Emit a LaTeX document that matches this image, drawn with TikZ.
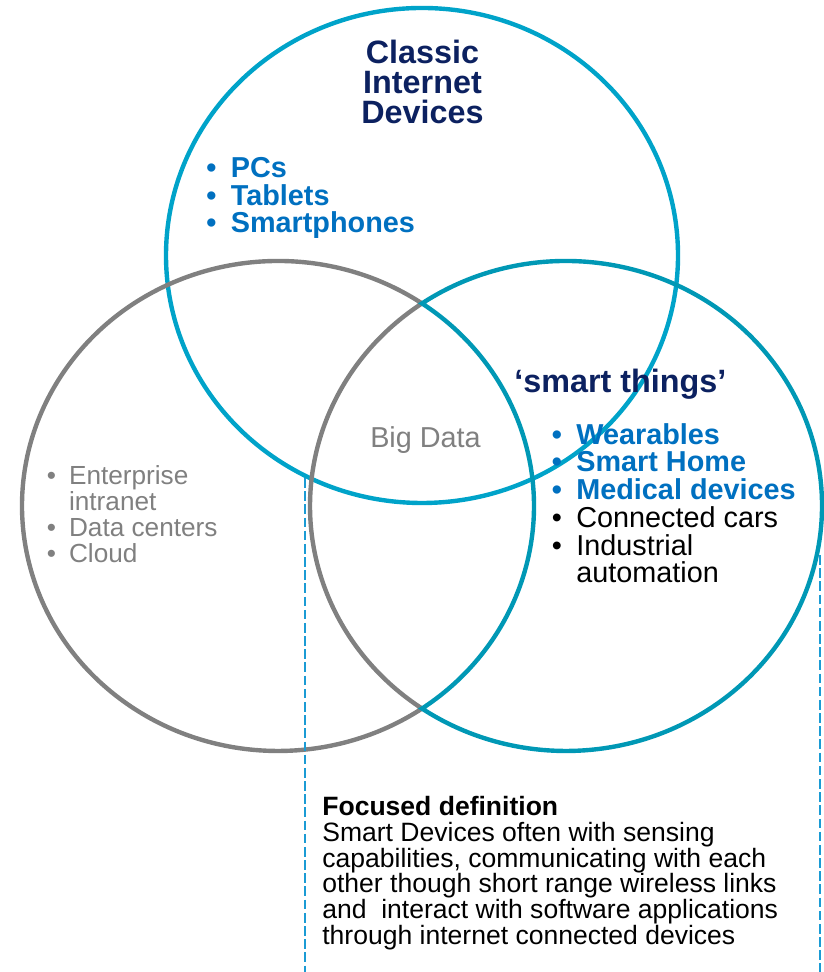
\documentclass[tikz,border=0pt]{standalone}
\usepackage{fontspec}
\setmainfont{Liberation Sans}
\usepackage{xcolor}

\definecolor{navy}{HTML}{0C2160}
\definecolor{itemblue}{HTML}{0070C0}
\definecolor{ringgray}{HTML}{808080}
\definecolor{topcyan}{HTML}{00A3C9}
\definecolor{rightteal}{HTML}{0098B5}
\definecolor{dashblue}{HTML}{1B9BD4}

\newcommand{\itm}[1]{\makebox[0.85em][l]{\textbullet}#1}
\newcommand{\hng}[1]{\hspace*{0.85em}#1}

\tikzset{
  ring/.style={line width=2.5pt},
  guide/.style={dashblue,line width=1.1pt,dash pattern=on 5.5pt off 2pt},
  heading/.style={inner sep=0pt,text=navy,font=\fontsize{18.4}{17.3}\selectfont\bfseries},
  bullets/.style={inner sep=0pt,anchor=base west,align=left,font=\fontsize{16.4}{15.8}\selectfont},
  smallgray/.style={inner sep=0pt,anchor=base west,align=left,text=ringgray,font=\fontsize{14.9}{14.8}\selectfont}
}

\begin{document}
\begin{tikzpicture}[x=0.02cm,y=0.02cm]
        \useasboundingbox (0,0) rectangle (823,972);

        % Classic internet circle on top
        \draw[ring,topcyan] (422,716.5) ellipse [x radius=256,y radius=247.5];

        % left crescent, grey (outer arc plus the lens edge)
        \draw[ring,ringgray] (278,466) ++(55.77:256 and 245)
            arc[start angle=55.77,end angle=304.23,x radius=256,y radius=245]
            arc[start angle=235.77,end angle=124.23,x radius=256,y radius=245] -- cycle;

        % right crescent, teal
        \draw[ring,rightteal] (566,466) ++(124.23:256 and 245)
            arc[start angle=124.23,end angle=-124.23,x radius=256,y radius=245]
            arc[start angle=-55.77,end angle=55.77,x radius=256,y radius=245] -- cycle;

        % bracket for the focused definition
        \coordinate (gdA) at (305,494);
        \coordinate (gdB) at (305,0);
        \coordinate (gdC) at (820,417);
        \coordinate (gdD) at (820,0);
        \draw[guide] (gdA) -- (gdB);
        \draw[guide] (gdC) -- (gdD);

        % labels (base = last line)
        \node[heading,anchor=base,align=center] (classic) at (422.5,848) {Classic\\Internet\\Devices};
        \node[bullets,text=itemblue,font=\fontsize{16.4}{15.8}\selectfont\bfseries] (pcs) at (206,739)
            {\itm{PCs}\\ \itm{Tablets}\\ \itm{Smartphones}};
        \node[heading,anchor=base west] (smart) at (514,579) {‘smart things’};
        \node[bullets] (things) at (551.5,389)
            {\textcolor{itemblue}{\bfseries\itm{Wearables}}\\
             \textcolor{itemblue}{\bfseries\itm{Smart Home}}\\
             \textcolor{itemblue}{\bfseries\itm{Medical devices}}\\
             \itm{Connected cars}\\ \itm{Industrial}\\ \hng{automation}};
        \node[smallgray] (enterprise) at (46.5,409)
            {\itm{Enterprise}\\ \hng{intranet}\\ \itm{Data centers}\\ \itm{Cloud}};
        \node[inner sep=0pt,anchor=base,text=ringgray,font=\fontsize{16.4}{16}\selectfont] (bigdata) at (425.5,524) {Big Data};
        \node[inner sep=0pt,anchor=base west,align=left,font=\fontsize{15.1}{14.6}\selectfont] (focus) at (322,28)
            {\textbf{Focused definition}\\
             Smart Devices often with sensing\\
             capabilities, communicating with each\\
             other though short range wireless links\\
             and\ \ interact with software applications\\
             through internet connected devices};
\end{tikzpicture}
\end{document}
